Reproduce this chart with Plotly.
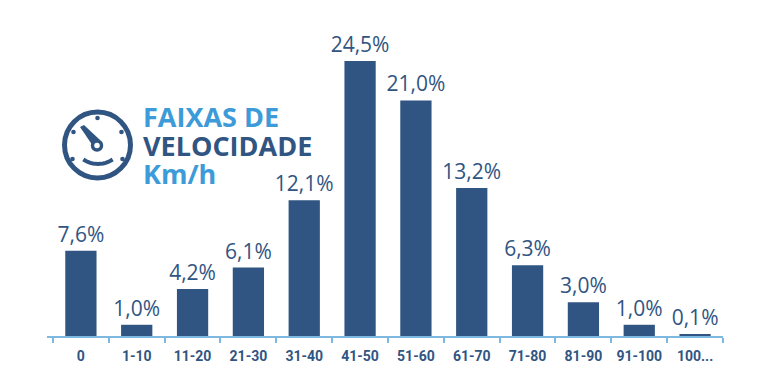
import math
import plotly.graph_objects as go

categories = ["0", "1-10", "11-20", "21-30", "31-40", "41-50", "51-60", "61-70", "71-80", "81-90", "91-100", "100..."]
values = [7.6, 1.0, 4.2, 6.1, 12.1, 24.5, 21.0, 13.2, 6.3, 3.0, 1.0, 0.1]
labels = ["7,6%", "1,0%", "4,2%", "6,1%", "12,1%", "24,5%", "21,0%", "13,2%", "6,3%", "3,0%", "1,0%", "0,1%"]

DARK = "#315582"
BLUE = "#3C9BD8"
AXIS = "#7DB8E0"
OFF = 8  # the page places the figure 8 px in from the window's corner
W, H = 771 - OFF, 371 - OFF
L, R, T, B = 47 - OFF, 48, 0, 35
PH = H - T - B


def px(x):
    return (x - OFF - L) / (W - L - R)


def py(y):
    return 1 - (y - OFF - T) / PH


fig = go.Figure(go.Bar(
    x=categories, y=values, text=labels, textposition="outside", cliponaxis=False, constraintext="none",
    textfont=dict(family="Open Sans", size=21, color=DARK),
    marker=dict(color=DARK, line=dict(width=0)), width=0.56,
))

shapes = []


def circle(cx, cy, r, **kw):
    shapes.append(dict(type="circle", xref="paper", yref="paper", layer="above",
                       x0=px(cx - r), x1=px(cx + r), y0=py(cy + r), y1=py(cy - r), **kw))


def path(pts, close=False, **kw):
    d = "M " + " L ".join(f"{px(x):.5f},{py(y):.5f}" for x, y in pts) + (" Z" if close else "")
    shapes.append(dict(type="path", xref="paper", yref="paper", layer="above", path=d, **kw))


cx, cy = 97.5, 145
circle(cx, cy, 33, line=dict(color=DARK, width=5), fillcolor="white")
for dx, dy in [(0, -27), (-24, -13), (24, -13), (-25, 14), (25, 14)]:
    circle(cx + dx, cy + dy, 2.3, line=dict(width=0), fillcolor=DARK)
path([(80, 127), (84, 125), (100, 140), (93, 146)], close=True, line=dict(width=0), fillcolor=DARK)
circle(97, 145.5, 4.5, line=dict(color=DARK, width=3.5), fillcolor="white")
arc = [(98 + 26 * math.sin(a / 10), 138 + 26 * math.cos(a / 10)) for a in range(-6, 7)]
path(arc, line=dict(color=DARK, width=4))

annotations = [
    dict(text=t, xref="paper", yref="paper", x=px(143), y=py(y), xanchor="left", yanchor="middle",
         xshift=-2, showarrow=False, font=dict(family="Open Sans", size=27, color=c, weight="bold"))
    for t, y, c in [("FAIXAS DE", 117, BLUE), ("VELOCIDADE", 145, DARK), ("Km/h", 173, BLUE)]
]

fig.update_layout(
    width=W, height=H, margin=dict(l=L, r=R, t=T, b=B, autoexpand=False), paper_bgcolor="white", plot_bgcolor="white",
    showlegend=False, shapes=shapes, annotations=annotations,
    xaxis=dict(type="category", range=[-0.607, 11.5], tickson="boundaries", ticks="outside", ticklen=5,
               tickcolor=AXIS, tickwidth=1.5, showline=True, linecolor=AXIS, linewidth=2, showgrid=False,
               ticklabelstandoff=6, tickangle=0, automargin=False,
               tickfont=dict(family="Roboto", size=14, color=DARK, weight="bold")),
    yaxis=dict(visible=False, range=[0, PH / 11.22]),
)
fig.write_html("out.html")
